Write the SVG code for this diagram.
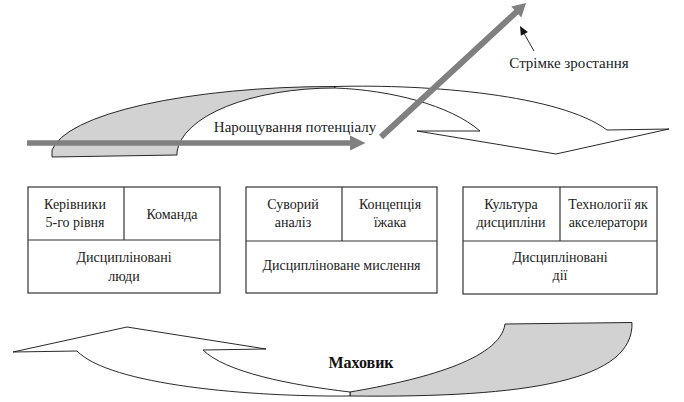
<svg xmlns="http://www.w3.org/2000/svg" width="684" height="402" viewBox="0 0 684 402">
<style>
.t{font-family:"Liberation Serif","Times New Roman",serif;font-size:14px;fill:#222;text-anchor:middle}
.big{font-size:15px}
.box{fill:#fff;stroke:#333;stroke-width:1.2}
.div{stroke:#333;stroke-width:1.2;fill:none}
.ol{stroke:#111;stroke-width:0.9;stroke-linejoin:round}
.front{fill:#fff}
.back{fill:#d2d2d2}
.gshaft{stroke:#808080;fill:none}
.ghead{fill:#808080}
</style>
<rect width="684" height="402" fill="#fff"/>
<g id="flywheel-top">
<path class="back ol" d="M52,157 L52,150 A283,70 0 0 1 335,86.5 L335,88 A158,68 0 0 0 177,152 L177,155 Z"/>
<path class="front ol" d="M335,86.5 C430,84 560,95 607,130 L669,129 L556,154 L417,131 L480,131 C450,105 390,90 335,88 Z"/>
</g>
<g id="flywheel-bottom">
<path class="back ol" d="M505,324 L632,322.5 C634,380 530,398 350,396 L350,392 C420,380 500,360 505,324 Z"/>
<path class="front ol" d="M350,396 C250,397 110,385 77,351 L13,352 L127,327 L266,349 L203,350 C225,372 290,385 350,392 Z"/>
</g>
<g id="connectors">
<line class="gshaft" x1="27" y1="143" x2="352" y2="143" stroke-width="5.5"/>
<polygon class="ghead" points="350,135.5 365.5,143 350,150.5"/>
<line class="gshaft" x1="381" y1="137" x2="518" y2="10.5" stroke-width="6"/>
<polygon class="ghead" points="526,3 521.3,17.5 511.2,6.5"/>
<line x1="534" y1="51" x2="523.5" y2="32.5" stroke="#111" stroke-width="0.9"/>
<polygon points="520,26 527.9,31.9 520.9,35.8" fill="#111"/>
</g>
<g id="label-growth-potential"><text class="t big" x="295" y="132">Нарощування потенціалу</text></g>
<g id="label-rapid-growth"><text class="t big" x="569" y="68">Стрімке зростання</text></g>
<g id="label-flywheel"><text class="t" x="361" y="368" style="font-size:16px;font-weight:bold;fill:#111">Маховик</text></g>
<g id="node-people">
<rect class="box" x="28" y="187" width="192" height="106"/>
<line class="div" x1="28" y1="240" x2="220" y2="240"/>
<line class="div" x1="124" y1="187" x2="124" y2="240"/>
<text class="t" x="75" y="209">Керівники</text>
<text class="t" x="75" y="227">5-го рівня</text>
<text class="t" x="172" y="219">Команда</text>
<text class="t" x="124" y="262">Дисципліновані</text>
<text class="t" x="124" y="281">люди</text>
</g>
<g id="node-thinking">
<rect class="box" x="246" y="187" width="191" height="106"/>
<line class="div" x1="246" y1="241" x2="437" y2="241"/>
<line class="div" x1="342" y1="187" x2="342" y2="241"/>
<text class="t" x="293" y="209">Суворий</text>
<text class="t" x="293" y="227">аналіз</text>
<text class="t" x="390" y="209">Концепція</text>
<text class="t" x="390" y="227">їжака</text>
<text class="t" x="341.5" y="270">Дисципліноване мислення</text>
</g>
<g id="node-action">
<rect class="box" x="463" y="187" width="194" height="107"/>
<line class="div" x1="463" y1="241" x2="657" y2="241"/>
<line class="div" x1="560" y1="187" x2="560" y2="241"/>
<text class="t" x="511" y="209">Культура</text>
<text class="t" x="511" y="227">дисципліни</text>
<text class="t" x="608" y="209">Технології як</text>
<text class="t" x="608" y="227">акселератори</text>
<text class="t" x="560" y="262">Дисципліновані</text>
<text class="t" x="560" y="280">дії</text>
</g>
</svg>
